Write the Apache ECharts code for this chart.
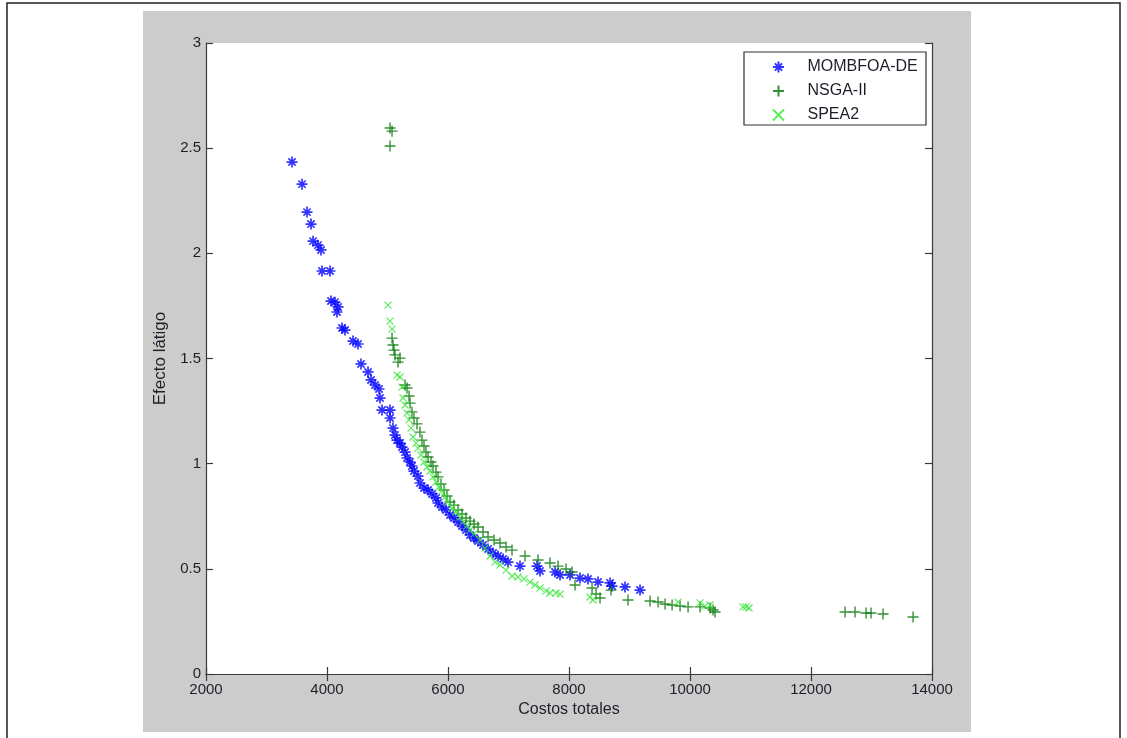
<!DOCTYPE html>
<html>
<head>
<meta charset="utf-8">
<script src="https://cdn.jsdelivr.net/npm/echarts@6/dist/echarts.min.js"></script>
<style>
html,body{margin:0;padding:0;background:#fff;}
#c{width:1127px;height:738px;}
</style>
</head>
<body>
<div id="c"></div>
<script>
// ---- data ----
const seriesNames = ['MOMBFOA-DE', 'NSGA-II', 'SPEA2'];
const xTicks = [2000, 4000, 6000, 8000, 10000, 12000, 14000];
const yTicks = [0, 0.5, 1, 1.5, 2, 2.5, 3];

const mombfoaDE = [
  [3422,2.434],[3587,2.329],[3670,2.196],[3736,2.139],[3769,2.058],[3851,2.039],[3901,2.016],
  [3917,1.916],[4050,1.916],[4066,1.773],[4132,1.768],[4182,1.745],[4165,1.721],[4248,1.645],
  [4298,1.635],[4430,1.583],[4513,1.569],[4562,1.474],[4678,1.436],[4728,1.398],[4794,1.374],
  [4860,1.355],[4876,1.312],[4909,1.255],[5042,1.255],[5042,1.217],[5091,1.169],[5124,1.136],
  [5157,1.112],[5207,1.098],[5240,1.079],[5290,1.055],[5323,1.027],[5372,1.008],[5405,0.989],
  [5438,0.965],[5504,0.941],[5537,0.908],[5603,0.884],[5670,0.875],[5736,0.856],[5802,0.837],
  [5835,0.813],[5901,0.794],[5967,0.780],[6033,0.756],[6099,0.742],[6166,0.723],[6232,0.704],
  [6298,0.685],[6364,0.661],[6430,0.647],[6496,0.632],[6579,0.613],[6662,0.594],[6744,0.575],
  [6827,0.561],[6910,0.547],[6992,0.532],[7190,0.513],[7471,0.513],[7521,0.490],[7769,0.485],
  [7852,0.471],[8017,0.471],[8182,0.456],[8314,0.452],[8480,0.437],[8678,0.433],[8711,0.418],
  [8926,0.414],[9174,0.399]
];

const nsga2 = [
  [5042,2.596],[5075,2.581],[5042,2.510],
  [5075,1.597],[5091,1.564],[5108,1.540],[5124,1.517],[5174,1.483],[5207,1.502],[5290,1.374],
  [5323,1.360],[5356,1.322],[5372,1.288],[5405,1.246],[5438,1.217],[5488,1.189],[5537,1.150],
  [5570,1.112],[5603,1.084],[5636,1.055],[5670,1.032],[5719,1.008],[5752,0.989],[5802,0.960],
  [5835,0.937],[5885,0.903],[5934,0.875],[5984,0.846],[6033,0.818],[6099,0.803],[6166,0.780],
  [6232,0.761],[6298,0.742],[6364,0.727],[6430,0.713],[6496,0.699],[6579,0.675],[6662,0.651],
  [6761,0.637],[6860,0.623],[6959,0.604],[7058,0.589],[7273,0.561],[7488,0.542],[7686,0.528],
  [7819,0.513],[7951,0.499],[8050,0.485],[8100,0.423],[8381,0.409],[8447,0.380],[8513,0.361],
  [8695,0.399],[8976,0.352],[9340,0.347],[9472,0.342],[9588,0.333],[9704,0.328],[9836,0.323],
  [9968,0.319],[10166,0.319],[10331,0.314],[10381,0.304],[10414,0.295],
  [12563,0.295],[12728,0.295],[12910,0.290],[12993,0.290],[13191,0.285],[13687,0.271]
];

const spea2 = [
  [5009,1.754],[5042,1.678],[5075,1.640],[5157,1.421],[5207,1.412],[5240,1.364],[5257,1.312],
  [5290,1.279],[5323,1.241],[5356,1.208],[5389,1.169],[5422,1.127],[5471,1.098],[5504,1.074],
  [5554,1.041],[5603,1.008],[5653,0.984],[5703,0.965],[5752,0.937],[5802,0.913],[5851,0.889],
  [5901,0.870],[5951,0.841],[6000,0.818],[6066,0.789],[6133,0.770],[6199,0.746],[6248,0.723],
  [6314,0.704],[6364,0.685],[6430,0.666],[6529,0.637],[6612,0.599],[6695,0.561],[6777,0.532],
  [6860,0.518],[6959,0.494],[7058,0.466],[7157,0.461],[7257,0.452],[7356,0.437],[7438,0.423],
  [7521,0.409],[7620,0.395],[7686,0.385],[7785,0.385],[7852,0.380],[8347,0.366],[8397,0.352],
  [9802,0.342],[10166,0.338],[10248,0.323],[10331,0.328],[10877,0.319],[10926,0.319],[10976,0.314]
];

// ---- styles ----
const STAR = 'path://M0,-5L0,5M-5,0L5,0M-3.3,-3.3L3.3,3.3M-3.3,3.3L3.3,-3.3';
const PLUS = 'path://M0,-5L0,5M-5,0L5,0';
const CROSS = 'path://M-4,-4L4,4M-4,4L4,-4';
const colors = ['#0000ff', '#037603', '#33e633'];
const FONT = 'Liberation Sans, Arial, sans-serif';
const AX = '#3a3a3a';
const TXT = '#1e1e2a';

const chart = echarts.init(document.getElementById('c'), null, {renderer: 'canvas'});

function axisCommon(ticks, showLabel) {
  return {
    min: ticks[0], max: ticks[ticks.length - 1], interval: ticks[1] - ticks[0],
    axisLine: {show: true, lineStyle: {color: AX, width: 1.2}},
    axisTick: {show: true, inside: true, length: 7, lineStyle: {color: AX, width: 1.2}},
    axisLabel: {show: showLabel, color: TXT, fontFamily: FONT, fontSize: 15,
                formatter: function (v) { return String(v); }},
    splitLine: {show: false}
  };
}

chart.setOption({
  animation: false,
  backgroundColor: '#ffffff',
  graphic: [
    {type: 'rect', z: -20, shape: {x: 7, y: 3, width: 1113, height: 740},
     style: {fill: '#ffffff', stroke: '#222', lineWidth: 1.5}},
    {type: 'rect', z: -10, shape: {x: 143, y: 11, width: 828, height: 721},
     style: {fill: '#cccccc'}},
    {type: 'rect', z: 3, shape: {x: 744, y: 52, width: 182, height: 73},
     style: {fill: '#ffffff', stroke: '#333', lineWidth: 1.2}}
  ],
  grid: {left: 206, top: 43, width: 726, height: 631, show: true,
         backgroundColor: '#ffffff', borderWidth: 0},
  legend: {
    left: 772, top: 59, orient: 'vertical', padding: 0,
    itemWidth: 48, itemHeight: 11, itemGap: 8,
    textStyle: {fontFamily: FONT, fontSize: 16, color: TXT, lineHeight: 11},
    data: [
      {name: seriesNames[0], icon: STAR},
      {name: seriesNames[1], icon: PLUS},
      {name: seriesNames[2], icon: CROSS}
    ]
  },
  xAxis: [
    Object.assign(axisCommon(xTicks, true), {
      type: 'value', position: 'bottom',
      name: 'Costos totales', nameLocation: 'middle', nameGap: 27,
      nameTextStyle: {fontFamily: FONT, fontSize: 16, color: TXT}
    }),
    Object.assign(axisCommon(xTicks, false), {type: 'value', position: 'top'})
  ],
  yAxis: [
    Object.assign(axisCommon(yTicks, true), {
      type: 'value', position: 'left',
      axisLabel: {show: true, color: TXT, fontFamily: FONT, fontSize: 15, margin: 5,
                  formatter: function (v) { return String(v); }},
      name: 'Efecto látigo', nameLocation: 'middle', nameGap: 32,
      nameTextStyle: {fontFamily: FONT, fontSize: 17, color: TXT}
    }),
    Object.assign(axisCommon(yTicks, false), {type: 'value', position: 'right'})
  ],
  series: [
    {name: seriesNames[0], type: 'scatter', data: mombfoaDE, symbol: STAR, symbolSize: 11,
     itemStyle: {color: colors[0], borderColor: colors[0], borderWidth: 1.7}},
    {name: seriesNames[1], type: 'scatter', data: nsga2, symbol: PLUS, symbolSize: 11,
     itemStyle: {color: colors[1], borderColor: colors[1], borderWidth: 1.4}},
    {name: seriesNames[2], type: 'scatter', data: spea2, symbol: CROSS, symbolSize: 7,
     itemStyle: {color: colors[2], borderColor: colors[2], borderWidth: 1.2}}
  ]
});
</script>
</body>
</html>
